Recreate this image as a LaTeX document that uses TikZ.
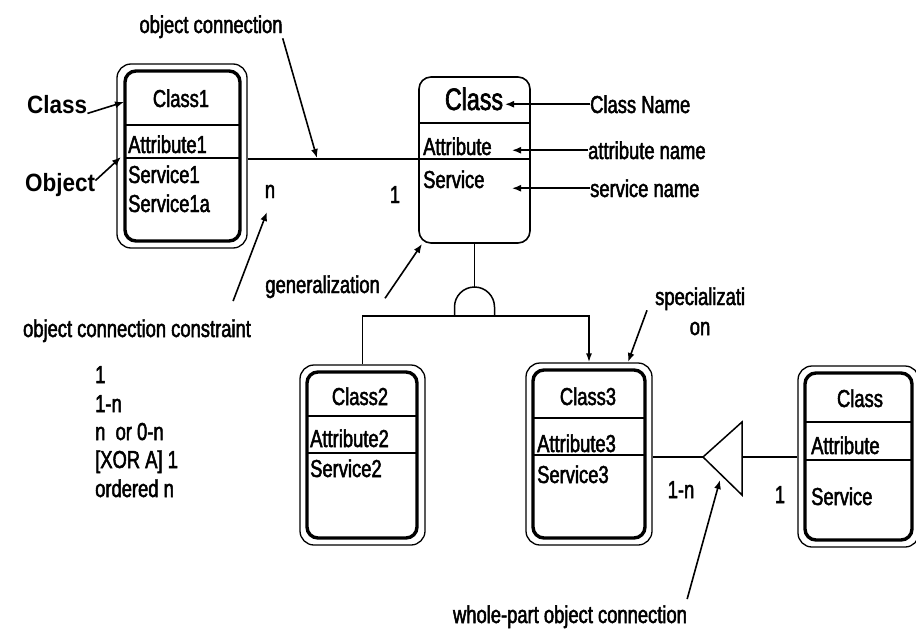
\documentclass[tikz,border=0pt]{standalone}
\usepackage{fontspec}
\setmainfont{Liberation Sans}[FakeStretch=0.75,FakeBold=2]
\newfontfamily\lblfont{Liberation Sans}[FakeStretch=0.9]
\usetikzlibrary{arrows.meta}
\newcommand\myfs{\fontsize{24.5}{27}\selectfont}
\newcommand\bigfs{\fontsize{31}{34}\selectfont}
\newcommand\lblfs{\lblfont\bfseries\fontsize{25}{28}\selectfont}
\begin{document}
\begin{tikzpicture}[x=1pt,y=-1pt,
  txt/.style={inner sep=0pt, font=\myfs},
  inbox/.style={draw, line width=3.4pt, rounded corners=11pt, inner sep=0pt},
  outbox/.style={draw, line width=1.3pt, rounded corners=14pt, inner sep=0pt},
  mainbox/.style={draw, line width=1.6pt, rounded corners=12pt, inner sep=0pt},
  divider/.style={line width=1.8pt},
  conn/.style={line width=1.5pt},
  pointer/.style={line width=1.6pt, -{Latex[length=9pt,width=7pt]}},
]
\useasboundingbox (0,0) rectangle (916,632);
\fill[white] (0,0) rectangle (916,632);
\clip (0,0) rectangle (916,632);

% ---------- class boxes ----------
\node[outbox, minimum width=130pt, minimum height=184pt] (c1o) at (182,156) {};
\node[inbox, minimum width=115pt, minimum height=170pt] (c1i) at (182.5,156) {};
\draw[divider] (125,125) -- (240,125);
\draw[divider] (125,158) -- (240,158);
\node[txt, anchor=base] (c1t) at (181,107) {Class1};
\node[txt, anchor=base west] (c1a) at (128,153) {Attribute1};
\node[txt, anchor=base west] (c1s) at (128,183) {Service1};
\node[txt, anchor=base west] (c1s2) at (128,212) {Service1a};

\node[mainbox, minimum width=111pt, minimum height=166pt] (cm) at (474.5,160) {};
\draw[divider] (419,123) -- (530,123);
\draw[line width=2.2pt] (419,159) -- (530,159);
\node[txt, anchor=base, font=\bigfs] (cmt) at (474,110) {Class};
\node[txt, anchor=base west] (cma) at (423,155) {Attribute};
\node[txt, anchor=base west] (cms) at (423,188) {Service};

\node[outbox, minimum width=125pt, minimum height=180pt] (c2o) at (362.5,455) {};
\node[inbox, minimum width=110pt, minimum height=166pt] (c2i) at (362,455) {};
\draw[divider] (307,416) -- (417,416);
\draw[divider] (307,453) -- (417,453);
\node[txt, anchor=base] (c2t) at (360,405) {Class2};
\node[txt, anchor=base west] (c2a) at (310,447) {Attribute2};
\node[txt, anchor=base west] (c2s) at (310,477) {Service2};

\node[outbox, minimum width=126pt, minimum height=182pt] (c3o) at (589,454) {};
\node[inbox, minimum width=112pt, minimum height=168pt] (c3i) at (589,454) {};
\draw[divider] (533,418) -- (645,418);
\draw[divider] (533,455) -- (645,455);
\node[txt, anchor=base] (c3t) at (588,405) {Class3};
\node[txt, anchor=base west] (c3a) at (537,452) {Attribute3};
\node[txt, anchor=base west] (c3s) at (537,483) {Service3};

\node[outbox, minimum width=121pt, minimum height=181pt] (cro) at (858.5,456.5) {};
\node[inbox, minimum width=107pt, minimum height=167pt] (cri) at (858.5,456.5) {};
\draw[divider] (805,422) -- (912,422);
\draw[divider] (805,460) -- (912,460);
\node[txt, anchor=base] (crt) at (860,407) {Class};
\node[txt, anchor=base west] (cra) at (811,454) {Attribute};
\node[txt, anchor=base west] (crs) at (811,505) {Service};

% ---------- object connection ----------
\coordinate (oc) at (419,159);
\draw[conn] (c1o.east |- oc) -- (oc);
\node[txt, anchor=base] (ln) at (270,198) {n};
\node[txt, anchor=base] (l1) at (395,203) {1};

% ---------- generalization / specialization ----------
\coordinate (archtop) at (474.5,287);
\coordinate (archbase) at (474.5,316);
\draw[conn] (cm.south) -- (archtop);
\draw[conn] (454.5,316) -- (454.5,307) arc[start angle=180, end angle=360, radius=20] -- (494.5,316);
\draw[conn] (c2o.north) |- (archbase);
\draw[conn, -{Latex[length=9pt,width=6pt]}] (archbase) -| (c3o.north);

% ---------- whole-part ----------
\coordinate (wl) at (703,457);
\coordinate (wr) at (742,457);
\draw[conn] (wl) -- (742,422) -- (742,495) -- cycle;
\draw[conn] (c3o.east |- wl) -- (wl);
\draw[conn] (wr) -- (cro.west |- wr);
\node[txt, anchor=base] (l1n) at (681,498) {1-n};
\node[txt, anchor=base] (l1r) at (780,503) {1};

% ---------- labels and pointers ----------
\node[txt, anchor=base] (lobjc) at (211,33) {object connection};
\coordinate (ocp) at (317,158);
\draw[pointer] (lobjc.south east) -- (ocp);

\node[inner sep=0pt, font=\lblfs, anchor=base west] (lclass) at (27,113) {Class};
\coordinate (clp) at (124,102);
\draw[pointer] (lclass.south east) -- (clp);

\node[inner sep=0pt, font=\lblfs, anchor=base west] (lobject) at (25,191) {Object};
\coordinate (obp) at (121,157);
\draw[pointer] ([yshift=4pt]lobject.east) -- (obp);

\node[txt, anchor=base] (lcons) at (137,337) {object connection constraint};
\coordinate (ntip) at (267,212);
\draw[pointer] ([shift={(-18,-18)}]lcons.north east) -- (ntip);
\node[txt, anchor=base west] (k1) at (95,383) {1};
\node[txt, anchor=base west] (k2) at (95,412) {1-n};
\node[txt, anchor=base west] (k3) at (95,440) {n\ \ or 0-n};
\node[txt, anchor=base west] (k4) at (95,468) {[XOR A] 1};
\node[txt, anchor=base west] (k5) at (95,497) {ordered n};

\node[txt, anchor=base west] (lcn) at (590,113) {Class Name};
\coordinate (cntip) at (505,106);
\draw[pointer] (lcn.west) -- (lcn.west -| cntip);
\node[txt, anchor=base west] (lan) at (588,159) {attribute name};
\coordinate (antip) at (512,152);
\draw[pointer] (lan.west) -- (lan.west -| antip);
\node[txt, anchor=base west] (lsn) at (590,197) {service name};
\coordinate (sntip) at (512,188);
\draw[pointer] (lsn.west) -- (lsn.west -| sntip);

\node[txt, anchor=base east] (lgen) at (380,293) {generalization};
\coordinate (gentip) at (422,244);
\draw[pointer] ([xshift=5pt]lgen.south east) -- (gentip);

\node[txt, anchor=base west] (lspec) at (655,305) {specializati};
\node[txt, anchor=base] (lspec2) at (700,335) {on};
\coordinate (sptip) at (628,362);
\draw[pointer] ([xshift=-8pt]lspec.south west) -- (sptip);

\node[txt, anchor=base] (lwp) at (570,623) {whole-part object connection};
\coordinate (wptip) at (720,480);
\draw[pointer] ([yshift=6pt]lwp.north east) -- (wptip);
\end{tikzpicture}
\end{document}
